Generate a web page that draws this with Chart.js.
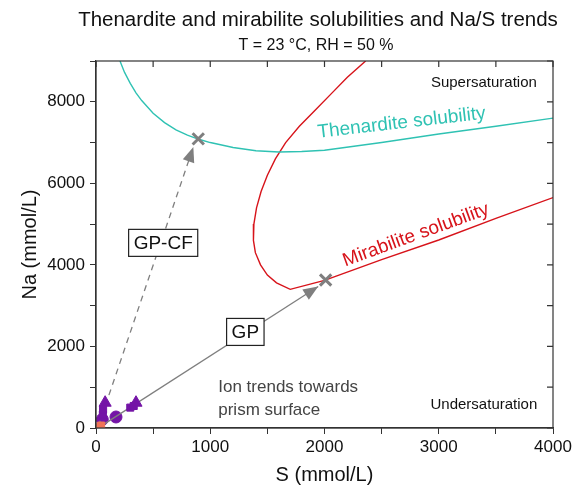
<!DOCTYPE html>
<html>
<head>
<meta charset="utf-8">
<script src="https://cdn.jsdelivr.net/npm/chart.js@4.4.1/dist/chart.umd.min.js"></script>
<style>
  html, body { margin: 0; padding: 0; background: #fff; }
</style>
</head>
<body>
<canvas id="solubilityChart" width="575" height="491"></canvas>
<script>
// solubility curves (S, Na in mmol/L)
const thenarditeS = [210, 250, 300, 350, 400, 500, 600, 700, 800, 900, 1000, 1200, 1400, 1600, 1800, 2000, 2500, 3000, 3500, 4000];
const thenarditeNa = [9000, 8720, 8450, 8220, 8030, 7720, 7490, 7310, 7180, 7080, 7000, 6880, 6800, 6770, 6780, 6810, 7000, 7210, 7400, 7600];

const mirabiliteS = [2360, 2200, 2060, 1920, 1780, 1660, 1570, 1500, 1445, 1405, 1382, 1378, 1395, 1440, 1500, 1580, 1700, 2000, 2500, 3000, 3500, 4000];
const mirabiliteNa = [9000, 8600, 8200, 7800, 7400, 7000, 6600, 6200, 5800, 5400, 5000, 4600, 4300, 4000, 3750, 3560, 3400, 3620, 4130, 4610, 5140, 5650];

// trend arrows (start -> arrow tip)
const gpS = [40, 1945];
const gpNa = [40, 3470];
const gpcfS = [20, 852];
const gpcfNa = [40, 6890];

// end points marked with a cross
const endS = [895, 2010];
const endNa = [7090, 3630];

// measured ion concentrations
const triangleS = [80, 350];
const triangleNa = [620, 620];
const squareS = [60, 62, 300, 330];
const squareNa = [330, 450, 500, 540];
const circleS = [55, 175];
const circleNa = [210, 270];
const orangeS = [45, 15];
const orangeNa = [60, 20];

const xTickStep = 500;
const yTickStep = 1000;

const colors = {
  thenardite: "#2fc2b3",
  mirabilite: "#d7131a",
  arrow: "#7f7f7f",
  sample: "#7414a6",
  orange: "#f07458",
  axis: "#333333",
  text: "#111111",
  note: "#444444",
};

const pts = (xs, ys) => xs.map((x, i) => ({ x, y: ys[i] }));

const FONT = "'Liberation Sans', Arial, sans-serif";

// text labels placed in data coordinates
const labels = [
  { text: "Thenardite solubility", s: 2675, na: 7480, angle: -6.5, color: colors.thenardite, size: 19 },
  { text: "Mirabilite solubility", s: 2800, na: 4730, angle: -20, color: colors.mirabilite, size: 19 },
  { text: "Supersaturation", s: 3395, na: 8470, angle: 0, color: colors.text, size: 15 },
  { text: "Undersaturation", s: 3395, na: 560, angle: 0, color: colors.text, size: 15 },
];
const boxLabels = [
  { text: "GP-CF", s: 588, na: 4540 },
  { text: "GP", s: 1307, na: 2356 },
];

const decorations = {
  id: "decorations",
  afterDatasetsDraw(chart) {
    const { ctx, scales: { x, y } } = chart;

    // arrow heads at the end of both trend lines
    [3, 4].forEach((idx) => {
      const els = chart.getDatasetMeta(idx).data;
      const a = els[els.length - 2];
      const b = els[els.length - 1];
      const ang = Math.atan2(b.y - a.y, b.x - a.x);
      ctx.save();
      ctx.translate(b.x, b.y);
      ctx.rotate(ang);
      ctx.fillStyle = colors.arrow;
      ctx.beginPath();
      ctx.moveTo(0, 0);
      ctx.lineTo(-15, -6);
      ctx.lineTo(-15, 6);
      ctx.closePath();
      ctx.fill();
      ctx.restore();
    });

    // boxed labels
    ctx.save();
    ctx.font = `19px ${FONT}`;
    ctx.textAlign = "center";
    ctx.textBaseline = "middle";
    boxLabels.forEach((l) => {
      const px = x.getPixelForValue(l.s);
      const py = y.getPixelForValue(l.na);
      const w = ctx.measureText(l.text).width + 10;
      const h = 27;
      ctx.fillStyle = "#fff";
      ctx.fillRect(px - w / 2, py - h / 2, w, h);
      ctx.strokeStyle = "#222";
      ctx.lineWidth = 1.2;
      ctx.strokeRect(px - w / 2, py - h / 2, w, h);
      ctx.fillStyle = colors.text;
      ctx.fillText(l.text, px, py + 1);
    });

    labels.forEach((l) => {
      ctx.save();
      ctx.translate(x.getPixelForValue(l.s), y.getPixelForValue(l.na));
      ctx.rotate((l.angle * Math.PI) / 180);
      ctx.font = `${l.size}px ${FONT}`;
      ctx.fillStyle = l.color;
      ctx.fillText(l.text, 0, 0);
      ctx.restore();
    });

    // note near the origin
    ctx.font = `17px ${FONT}`;
    ctx.fillStyle = colors.note;
    ctx.textAlign = "left";
    ctx.fillText("Ion trends towards", x.getPixelForValue(1070), y.getPixelForValue(1010));
    ctx.fillText("prism surface", x.getPixelForValue(1070), y.getPixelForValue(445));
    ctx.restore();
  },
  afterDraw(chart) {
    const { ctx, chartArea: ca, scales: { x, y } } = chart;
    ctx.save();

    // frame
    ctx.strokeStyle = colors.axis;
    ctx.lineWidth = 1.2;
    ctx.strokeRect(ca.left, ca.top, ca.right - ca.left, ca.bottom - ca.top);

    // mirrored inward ticks on top and right
    ctx.beginPath();
    x.ticks.forEach((t) => {
      const px = x.getPixelForValue(t.value);
      ctx.moveTo(px, ca.top);
      ctx.lineTo(px, ca.top + 6);
    });
    y.ticks.forEach((t) => {
      const py = y.getPixelForValue(t.value);
      ctx.moveTo(ca.right, py);
      ctx.lineTo(ca.right - 6, py);
    });
    ctx.stroke();

    // titles
    ctx.fillStyle = colors.text;
    ctx.textAlign = "center";
    ctx.textBaseline = "middle";
    ctx.font = `20.5px ${FONT}`;
    ctx.fillText("Thenardite and mirabilite solubilities and Na/S trends", 318, 20);
    ctx.font = `16px ${FONT}`;
    ctx.fillText("T = 23 °C, RH = 50 %", 316, 46);

    // axis titles
    ctx.font = `20px ${FONT}`;
    ctx.fillText("S (mmol/L)", (ca.left + ca.right) / 2, 475);
    ctx.translate(30, (ca.top + ca.bottom) / 2);
    ctx.rotate(-Math.PI / 2);
    ctx.fillText("Na (mmol/L)", 0, 0);
    ctx.restore();
  },
};

const ctx = document.getElementById("solubilityChart").getContext("2d");

new Chart(ctx, {
  type: "scatter",
  data: {
    datasets: [
      {
        label: "Orange",
        data: pts(orangeS, orangeNa),
        pointStyle: "rect",
        pointRadius: 5,
        backgroundColor: colors.orange,
        borderColor: colors.orange,
      },
      {
        label: "Triangles",
        data: pts(triangleS, triangleNa),
        pointStyle: "triangle",
        pointRadius: 7,
        backgroundColor: colors.sample,
        borderColor: colors.sample,
      },
      {
        label: "Squares",
        data: pts(squareS, squareNa),
        pointStyle: "rect",
        pointRadius: 5,
        backgroundColor: colors.sample,
        borderColor: colors.sample,
      },
      {
        label: "GP",
        data: pts(gpS, gpNa),
        showLine: true,
        borderColor: colors.arrow,
        borderWidth: 1.3,
        pointRadius: 0,
      },
      {
        label: "GP-CF",
        data: pts(gpcfS, gpcfNa),
        showLine: true,
        borderColor: colors.arrow,
        borderWidth: 1.3,
        borderDash: [6, 5],
        pointRadius: 0,
      },
      {
        label: "Circles",
        data: pts(circleS, circleNa),
        pointStyle: "circle",
        pointRadius: 6,
        backgroundColor: colors.sample,
        borderColor: colors.sample,
      },
      {
        label: "End points",
        data: pts(endS, endNa),
        pointStyle: "crossRot",
        pointRadius: 8,
        borderWidth: 3,
        borderColor: colors.arrow,
      },
      {
        label: "Thenardite",
        data: pts(thenarditeS, thenarditeNa),
        showLine: true,
        borderColor: colors.thenardite,
        borderWidth: 1.4,
        pointRadius: 0,
      },
      {
        label: "Mirabilite",
        data: pts(mirabiliteS, mirabiliteNa),
        showLine: true,
        borderColor: colors.mirabilite,
        borderWidth: 1.4,
        pointRadius: 0,
      },
    ],
  },
  options: {
    responsive: false,
    animation: false,
    layout: { padding: { left: 0, right: 22, top: 61, bottom: 0 } },
    plugins: {
      legend: { display: false },
      tooltip: { enabled: false },
    },
    scales: {
      x: {
        type: "linear",
        min: 0,
        max: 4000,
        afterFit(scale) { scale.height = 63; },
        ticks: {
          stepSize: xTickStep,
          color: colors.text,
          padding: 3,
          maxRotation: 0,
          font: { family: FONT, size: 17 },
          callback(value) { return value % 1000 === 0 ? value : ""; },
        },
        grid: { drawOnChartArea: false, tickLength: 6, color: colors.axis },
        border: { color: colors.axis, width: 1.2 },
      },
      y: {
        type: "linear",
        min: 0,
        max: 9000,
        afterFit(scale) { scale.width = 96; },
        ticks: {
          stepSize: yTickStep,
          color: colors.text,
          padding: 5,
          font: { family: FONT, size: 17 },
          callback(value) { return value % 2000 === 0 ? value : ""; },
        },
        grid: { drawOnChartArea: false, tickLength: 6, color: colors.axis },
        border: { color: colors.axis, width: 1.2 },
      },
    },
  },
  plugins: [decorations],
});
</script>
</body>
</html>
